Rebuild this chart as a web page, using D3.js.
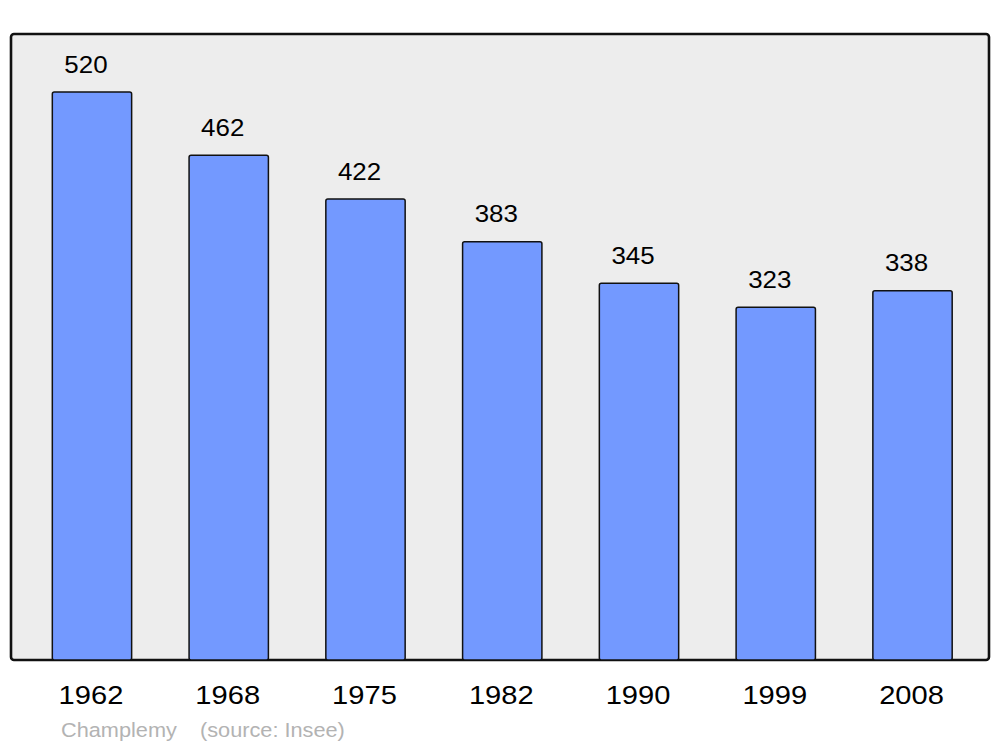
<!DOCTYPE html>
<html><head><meta charset="utf-8">
<script src="https://cdn.jsdelivr.net/npm/d3@7"></script>
<style>body{margin:0;background:#fff}svg{display:block}</style>
</head><body>
<svg id="c" width="1000" height="747"></svg>
<script>
const years = ["1962","1968","1975","1982","1990","1999","2008"];
const population = [520,462,422,383,345,323,338];
const footerParts = ["Champlemy", "(source: Insee)"];

const svg = d3.select("#c");
const frame = {x0:11, x1:989, y0:34, y1:660};

svg.append("rect").attr("x",frame.x0).attr("y",frame.y0)
  .attr("width",frame.x1-frame.x0).attr("height",frame.y1-frame.y0)
  .attr("rx",3).attr("fill","#ededed").attr("stroke","#111").attr("stroke-width",2.6);

const x = d3.scaleBand().domain(years).range([23.6,980.9]).paddingInner(0.42).paddingOuter(0.21);
const y = d3.scaleLinear().domain([0,573]).range([frame.y1,frame.y1-573*1.0923]);

svg.selectAll("rect.bar").data(years).join("rect").attr("class","bar")
  .attr("x",d=>x(d)).attr("width",x.bandwidth())
  .attr("y",(d,i)=>y(population[i])).attr("height",(d,i)=>y(0)-y(population[i]))
  .attr("rx",2).attr("fill","#7399ff").attr("stroke","#111").attr("stroke-width",1.5);

svg.selectAll("text.val").data(years).join("text").attr("class","val")
  .attr("transform",(d,i)=>`translate(${x(d)+x.bandwidth()/2-6},${y(population[i])-19.5}) scale(1.08,1)`)
  .attr("text-anchor","middle").attr("font-family","Liberation Sans, Arial, sans-serif")
  .attr("font-size",24).attr("fill","#000").text((d,i)=>population[i]);

const xAxis = d3.axisBottom(x).tickSize(0).tickPadding(0);
const ax = svg.append("g").attr("transform",`translate(0,${frame.y1})`).call(xAxis);
ax.select(".domain").remove();
ax.selectAll("text").attr("font-family","Liberation Sans, Arial, sans-serif").attr("font-size",26)
  .attr("fill","#000").attr("dy",null).attr("y",null)
  .attr("transform",`translate(-1,44) scale(1.12,1)`);

svg.selectAll("text.foot").data(footerParts).join("text").attr("class","foot")
  .attr("transform",(d,i)=>`translate(${i===0?61:200},737) scale(1.06,1)`)
  .attr("font-family","Liberation Sans, Arial, sans-serif")
  .attr("font-size",20.5).attr("fill","#b3b3b3").text(d=>d);
</script>
</body></html>
